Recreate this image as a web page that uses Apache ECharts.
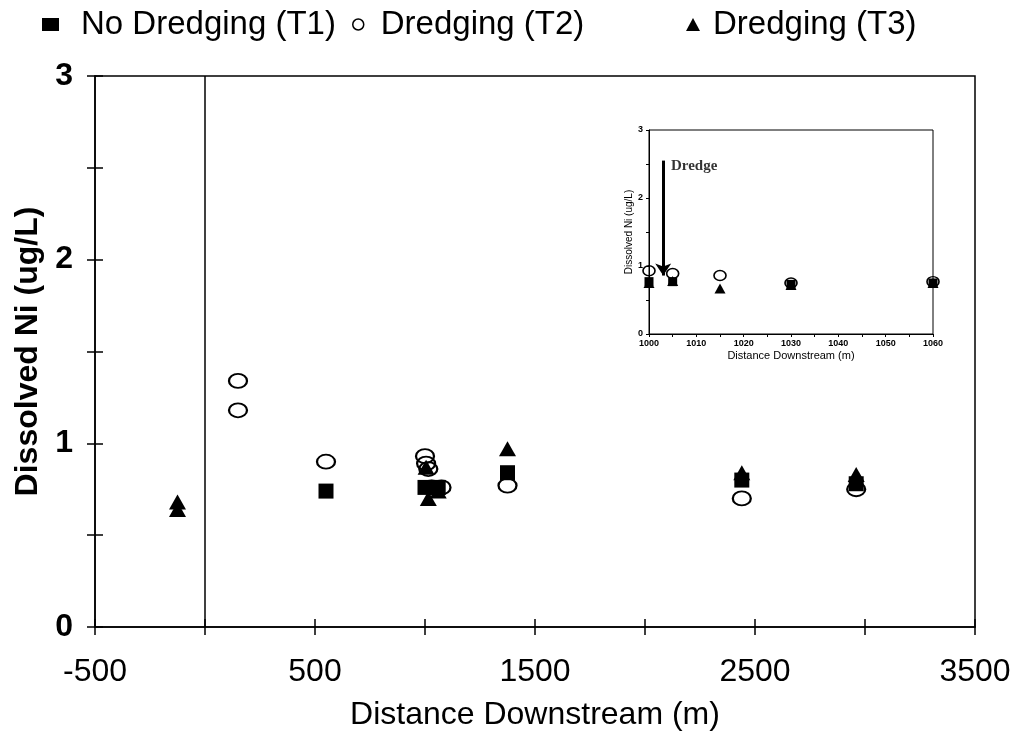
<!DOCTYPE html>
<html>
<head>
<meta charset="utf-8">
<script src="https://cdn.jsdelivr.net/npm/echarts@6/dist/echarts.min.js"></script>
<style>
  html, body { margin: 0; padding: 0; background: #fff; }
  #chart { width: 1011px; height: 731px; }
</style>
</head>
<body>
<div id="chart"></div>
<script>
// Series names
const seriesNames = ['No Dredging (T1)', 'Dredging (T2)', 'Dredging (T3)'];

// Main panel: [distance downstream (m), dissolved Ni (ug/L)]
const t1Main = [[550, 0.74], [1000, 0.76], [1060, 0.76], [1375, 0.84], [2440, 0.80], [2960, 0.78]];
const t2Main = [[150, 1.34], [150, 1.18], [550, 0.90], [1000, 0.93], [1005, 0.89], [1015, 0.86],
                [1030, 0.76], [1075, 0.76], [1375, 0.77], [2440, 0.70], [2960, 0.75]];
const t3Main = [[-125, 0.68], [-125, 0.64], [1005, 0.87], [1015, 0.70], [1060, 0.74],
                [1375, 0.97], [2440, 0.84], [2960, 0.83]];

// Inset: the first 60 m below the dredge
const t1Inset = [[1000, 0.77], [1005, 0.77], [1030, 0.73], [1060, 0.75]];
const t2Inset = [[1000, 0.93], [1005, 0.89], [1015, 0.86], [1030, 0.75], [1060, 0.77]];
const t3Inset = [[1000, 0.75], [1005, 0.78], [1015, 0.67], [1030, 0.72], [1060, 0.75]];

// Dredge position markers
const dredgeLineX = 0;
const dredgeArrow = { x: 1003, from: 2.55, to: 0.86 };
const dredgeLabel = { x: 1003.8, y: 2.47, text: 'Dredge' };

// Tick labels
const mainXLabels = [-500, 500, 1500, 2500, 3500];
const mainYLabels = [0, 1, 2, 3];
const insetXLabels = [1000, 1010, 1020, 1030, 1040, 1050, 1060];
const insetYLabels = [0, 1, 2, 3];

const INK = '#000';
const SANS = '"Liberation Sans", Arial, sans-serif';

const chart = echarts.init(document.getElementById('chart'), null, { renderer: 'canvas' });

function tickAxisBase(extra) {
  return Object.assign({
    axisLine: { show: true, onZero: false, lineStyle: { color: INK, width: 1.5 } },
    axisTick: { show: true, length: 8, lineStyle: { color: INK, width: 1.5 } },
    splitLine: { show: false }
  }, extra);
}

const markerStyles = [
  { symbol: 'rect', size: 15, itemStyle: { color: INK, opacity: 1 } },
  { symbol: 'circle', size: [18, 14], itemStyle: { color: 'rgba(255,255,255,0)', borderColor: INK, borderWidth: 2, opacity: 1 } },
  { symbol: 'triangle', size: [17, 15], itemStyle: { color: INK, opacity: 1 } }
];
const insetMarkerStyles = [
  { symbol: 'rect', size: 9, itemStyle: { color: INK, opacity: 1 } },
  { symbol: 'circle', size: [12, 10], itemStyle: { color: 'rgba(255,255,255,0)', borderColor: INK, borderWidth: 1.5, opacity: 1 } },
  { symbol: 'triangle', size: [11, 10], itemStyle: { color: INK, opacity: 1 } }
];

function scatter(idx, data, axisIndex, styles, z) {
  const s = styles[idx];
  return {
    name: seriesNames[idx],
    type: 'scatter',
    xAxisIndex: axisIndex,
    yAxisIndex: axisIndex,
    data: data,
    symbol: s.symbol,
    symbolSize: s.size,
    itemStyle: s.itemStyle,
    z: z,
    silent: true,
    animation: false
  };
}

const legendText = { fontFamily: SANS, fontSize: 33, color: INK, padding: [0, 0, 0, 17] };

const option = {
  backgroundColor: '#fff',
  animation: false,
  legend: [
    {
      left: 37, top: 3, itemWidth: 17, itemHeight: 13, selectedMode: false,
      data: [{ name: seriesNames[0], icon: 'rect', itemStyle: { color: INK } }],
      textStyle: legendText
    },
    {
      left: 347, top: 3, itemWidth: 11, itemHeight: 11, selectedMode: false,
      data: [{ name: seriesNames[1], icon: 'circle', itemStyle: { color: '#fff', borderColor: INK, borderWidth: 1.5 } }],
      textStyle: Object.assign({}, legendText, { padding: [0, 0, 0, 12] })
    },
    {
      left: 681, top: 3, itemWidth: 14, itemHeight: 13, selectedMode: false,
      data: [{ name: seriesNames[2], icon: 'triangle', itemStyle: { color: INK } }],
      textStyle: Object.assign({}, legendText, { padding: [0, 0, 0, 8] })
    }
  ],
  grid: [
    { left: 95, right: 36, top: 76, bottom: 104, outerBoundsMode: 'none', containLabel: false,
      show: true, borderColor: INK, borderWidth: 1.5, backgroundColor: '#fff' },
    { left: 649, right: 78, top: 130, bottom: 397, outerBoundsMode: 'none', containLabel: false,
      show: true, borderColor: INK, borderWidth: 1, backgroundColor: '#fff', z: 5 }
  ],
  xAxis: [
    tickAxisBase({
      gridIndex: 0, type: 'value', min: -500, max: 3500, interval: 500,
      name: 'Distance Downstream (m)', nameLocation: 'middle', nameGap: 72,
      nameTextStyle: { fontFamily: SANS, fontSize: 32, color: INK },
      axisLabel: {
        margin: 29, fontFamily: SANS, fontSize: 32, color: INK,
        formatter: v => (mainXLabels.includes(v) ? String(v) : '')
      }
    }),
    tickAxisBase({
      gridIndex: 1, type: 'value', min: 1000, max: 1060, interval: 5,
      axisLine: { show: true, onZero: false, lineStyle: { color: INK, width: 1 } },
      axisTick: { show: true, length: 3, lineStyle: { color: INK, width: 1 } },
      name: 'Distance Downstream (m)', nameLocation: 'middle', nameGap: 16,
      nameTextStyle: { fontFamily: SANS, fontSize: 11, color: INK },
      axisLabel: {
        margin: 5, fontFamily: SANS, fontSize: 9, fontWeight: 'bold', color: INK,
        formatter: v => (insetXLabels.includes(v) ? String(v) : '')
      },
      z: 6
    }),
    // inner half of the crossing ticks on the main x axis
    {
      gridIndex: 0, type: 'value', min: -500, max: 3500, interval: 500, position: 'bottom',
      axisLine: { show: false, onZero: false }, axisLabel: { show: false }, splitLine: { show: false },
      axisTick: { show: true, inside: true, length: 8, lineStyle: { color: INK, width: 1.5 } }
    }
  ],
  yAxis: [
    tickAxisBase({
      gridIndex: 0, type: 'value', min: 0, max: 3, interval: 0.5,
      name: 'Dissolved Ni (ug/L)', nameLocation: 'middle', nameGap: 50, nameRotate: 90,
      nameTextStyle: { fontFamily: SANS, fontSize: 32, fontWeight: 'bold', color: INK },
      axisLabel: {
        margin: 22, fontFamily: SANS, fontSize: 32, fontWeight: 'bold', color: INK,
        formatter: v => (mainYLabels.includes(v) ? String(v) : '')
      }
    }),
    tickAxisBase({
      gridIndex: 1, type: 'value', min: 0, max: 3, interval: 0.5,
      axisLine: { show: true, onZero: false, lineStyle: { color: INK, width: 1 } },
      axisTick: { show: true, length: 3, lineStyle: { color: INK, width: 1 } },
      name: 'Dissolved Ni (ug/L)', nameLocation: 'middle', nameGap: 14, nameRotate: 90,
      nameTextStyle: { fontFamily: SANS, fontSize: 10, color: INK },
      axisLabel: {
        margin: 6, fontFamily: SANS, fontSize: 9, fontWeight: 'bold', color: INK,
        formatter: v => (insetYLabels.includes(v) ? String(v) : '')
      },
      z: 6
    }),
    // inner half of the crossing ticks on the main y axis
    {
      gridIndex: 0, type: 'value', min: 0, max: 3, interval: 0.5, position: 'left',
      axisLine: { show: false, onZero: false }, axisLabel: { show: false }, splitLine: { show: false },
      axisTick: { show: true, inside: true, length: 8, lineStyle: { color: INK, width: 1.5 } }
    }
  ],
  series: [
    // main panel
    Object.assign(scatter(1, t2Main, 0, markerStyles, 2), {
      markLine: {
        silent: true, symbol: 'none', animation: false,
        label: { show: false },
        lineStyle: { color: INK, width: 1.5, type: 'solid', opacity: 1 },
        data: [{ xAxis: dredgeLineX }]
      }
    }),
    scatter(0, t1Main, 0, markerStyles, 3),
    scatter(2, t3Main, 0, markerStyles, 4),
    // inset panel
    scatter(1, t2Inset, 1, insetMarkerStyles, 7),
    scatter(0, t1Inset, 1, insetMarkerStyles, 8),
    Object.assign(scatter(2, t3Inset, 1, insetMarkerStyles, 9), {
      markLine: {
        silent: true, animation: false,
        symbol: ['none', 'arrow'], symbolSize: 12,
        label: { show: false },
        lineStyle: { color: INK, width: 3, type: 'solid', opacity: 1 },
        data: [[
          { coord: [dredgeArrow.x, dredgeArrow.from] },
          { coord: [dredgeArrow.x, dredgeArrow.to] }
        ]]
      }
    }),
    {
      type: 'scatter', xAxisIndex: 1, yAxisIndex: 1, z: 9, silent: true,
      data: [[dredgeLabel.x, dredgeLabel.y]],
      symbolSize: 0,
      label: {
        show: true, position: 'right', distance: 4,
        formatter: dredgeLabel.text,
        fontFamily: '"Liberation Serif", "Times New Roman", serif',
        fontWeight: 'bold', fontSize: 15, color: INK
      }
    }
  ]
};

chart.setOption(option);
</script>
</body>
</html>
